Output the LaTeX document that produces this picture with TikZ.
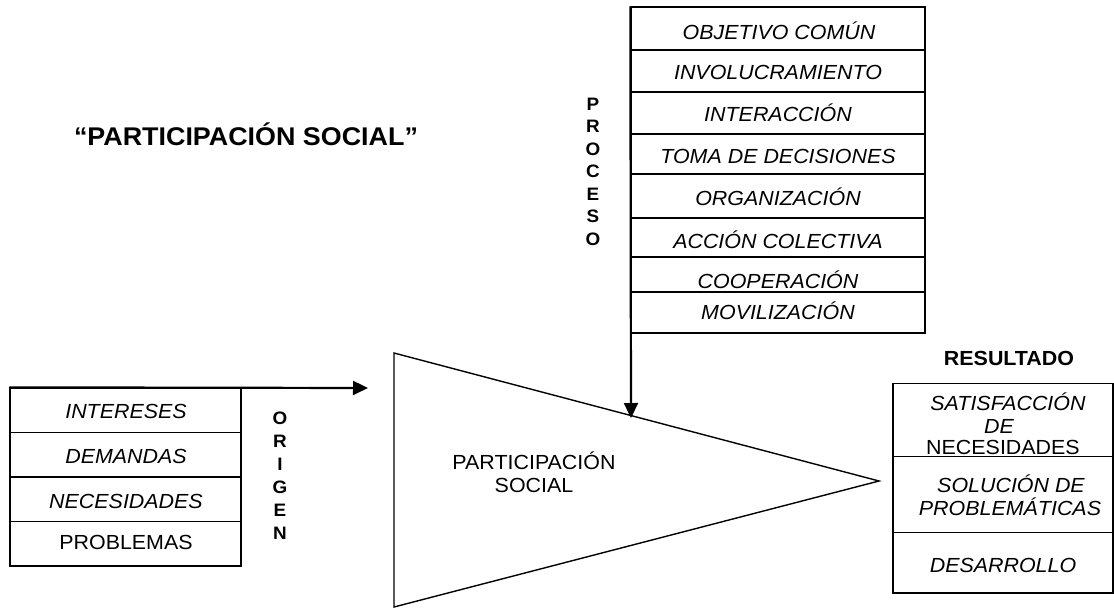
\documentclass[tikz,border=0pt]{standalone}
\usepackage{fontspec}
\setmainfont{Liberation Sans}[FakeStretch=1.05]
\usetikzlibrary{arrows.meta}
\begin{document}
\begin{tikzpicture}[x=1pt,y=-1pt,
  cell/.style={draw, line width=1.3pt, inner sep=0pt},
  txt/.style={inner sep=0pt, anchor=base, font=\fontsize{20.4}{24}\selectfont},
  itx/.style={inner sep=0pt, anchor=base, font=\fontsize{20.4}{24}\selectfont\itshape},
  vert/.style={inner sep=0pt, anchor=base, align=center},
  arr/.style={line width=2.2pt, -{Triangle[length=15pt,width=14pt]}},
]
\useasboundingbox (0,0) rectangle (1114,608);

% title
\node[inner sep=0pt, anchor=base, font=\fontsize{25.6}{29}\selectfont\bfseries] (title) at (246,145.5) {“PARTICIPACIÓN SOCIAL”};

% PROCESO stack
\node[cell, minimum width=294pt, minimum height=43pt] (p1) at (778,28.5) {};
\node[cell, minimum width=294pt, minimum height=42pt] (p2) at (778,71) {};
\node[cell, minimum width=294pt, minimum height=42pt] (p3) at (778,113) {};
\node[cell, minimum width=294pt, minimum height=40pt] (p4) at (778,154) {};
\node[cell, minimum width=294pt, minimum height=44pt] (p5) at (778,196) {};
\node[cell, minimum width=294pt, minimum height=39pt] (p6) at (778,237.5) {};
\node[cell, minimum width=294pt, minimum height=35pt] (p7) at (778,274.5) {};
\node[cell, minimum width=294pt, minimum height=41pt] (p8) at (778,312.5) {};
\node[itx] (t1) at (779,39) {OBJETIVO COMÚN};
\node[itx] (t2) at (778,79.8) {INVOLUCRAMIENTO};
\node[itx] (t3) at (778,121.3) {INTERACCIÓN};
\node[itx] (t4) at (778,163) {TOMA DE DECISIONES};
\node[itx] (t5) at (778,205.3) {ORGANIZACIÓN};
\node[itx] (t6) at (778,248) {ACCIÓN COLECTIVA};
\node[itx] (t7) at (778,288.3) {COOPERACIÓN};
\node[itx] (t8) at (778,319.8) {MOVILIZACIÓN};

\node[vert, font=\fontsize{18}{22.5}\selectfont\bfseries] (proceso) at (593,245.3) {P\\R\\O\\C\\E\\S\\O};

% triangle
\coordinate (tA) at (394,353);
\coordinate (tB) at (394,607);
\coordinate (tC) at (879,481);
\draw[line width=1.4pt, line join=miter] (tA) -- (tC) -- (tB) -- cycle;
\node[txt] (ps1) at (534,469) {PARTICIPACIÓN};
\node[txt] (ps2) at (534,492.3) {SOCIAL};

% arrow from PROCESO
\coordinate (tipP) at (631,418);
\draw[arr] (p1.north west) -- (tipP);

% ORIGEN box
\node[cell, minimum width=231pt, minimum height=44.5pt] (o1) at (125.5,410.25) {};
\node[cell, minimum width=231pt, minimum height=44.5pt] (o2) at (125.5,454.75) {};
\node[cell, minimum width=231pt, minimum height=44.5pt] (o3) at (125.5,499.25) {};
\node[cell, minimum width=231pt, minimum height=44.5pt] (o4) at (125.5,543.75) {};
\node[itx] (ot1) at (126,418) {INTERESES};
\node[itx] (ot2) at (126,463) {DEMANDAS};
\node[itx] (ot3) at (126,508) {NECESIDADES};
\node[txt] (ot4) at (126,549.8) {PROBLEMAS};
\node[vert, font=\fontsize{18}{23}\selectfont\bfseries] (origen) at (280,539.3) {O\\R\\I\\G\\E\\N};

\coordinate (tipO) at (368,388);
\draw[arr] (o1.north west) -- (tipO);

% RESULTADO
\node[inner sep=0pt, anchor=base, font=\fontsize{20.4}{24}\selectfont\bfseries] (res) at (1009,365.3) {RESULTADO};
\node[cell, minimum width=220pt, minimum height=73.5pt] (r1) at (1003,420) {};
\node[cell, minimum width=220pt, minimum height=76pt] (r2) at (1003,494.7) {};
\node[cell, minimum width=220pt, minimum height=60.3pt] (r3) at (1003,562.8) {};
\node[itx] (rt1) at (1008,410.5) {SATISFACCIÓN};
\node[itx] (rt2) at (999,433.5) {DE};
\node[txt] (rt3) at (1003,454.5) {NECESIDADES};
\node[itx] (rt4) at (1011,492) {SOLUCIÓN DE};
\node[itx] (rt5) at (1010,515) {PROBLEMÁTICAS};
\node[itx] (rt6) at (1003,572) {DESARROLLO};
\end{tikzpicture}
\end{document}
